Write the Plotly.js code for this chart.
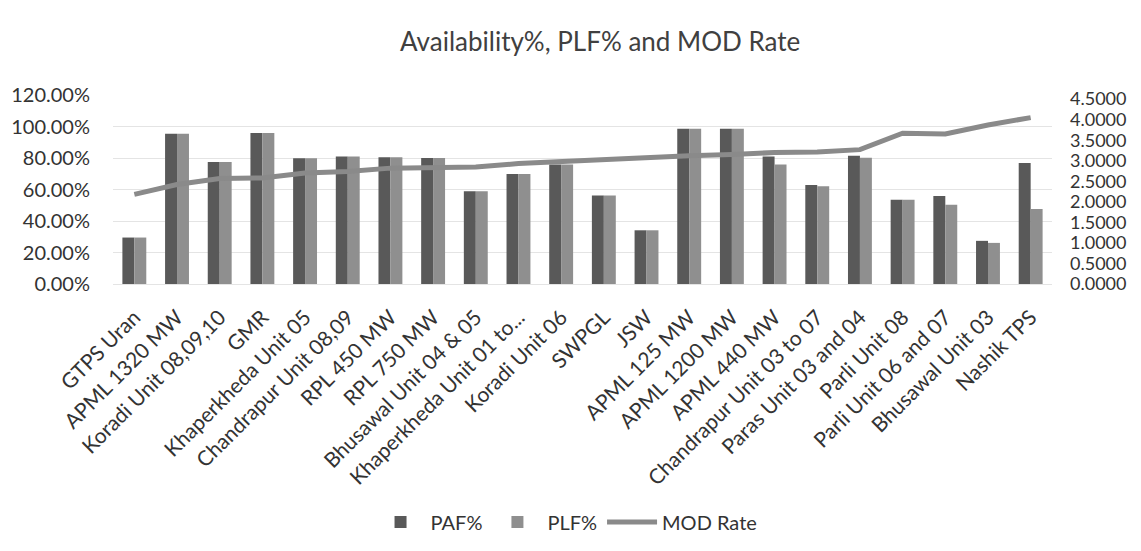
<!DOCTYPE html>
<html>
<head>
<meta charset="utf-8">
<script src="https://cdn.plot.ly/plotly-3.0.1.min.js"></script>
<style>html,body{margin:0;padding:0;background:#fff;}#chart{width:1141px;height:551px;}</style>
</head>
<body>
<div id="chart"></div>
<script>
const categories = ["GTPS Uran","APML 1320 MW","Koradi Unit 08,09,10","GMR","Khaperkheda Unit 05","Chandrapur Unit 08,09","RPL 450 MW","RPL 750 MW","Bhusawal Unit 04 & 05","Khaperkheda Unit 01 to...","Koradi Unit 06","SWPGL","JSW","APML 125 MW","APML 1200 MW","APML 440 MW","Chandrapur Unit 03 to 07","Paras Unit 03 and 04","Parli Unit 08","Parli Unit 06 and 07","Bhusawal Unit 03","Nashik TPS"];
const pafPct = [0.295,0.954,0.775,0.958,0.798,0.810,0.804,0.800,0.589,0.699,0.758,0.562,0.341,0.985,0.985,0.810,0.628,0.815,0.535,0.558,0.274,0.768];
const plfPct = [0.295,0.954,0.775,0.958,0.798,0.810,0.804,0.800,0.589,0.699,0.758,0.562,0.341,0.985,0.985,0.758,0.621,0.802,0.535,0.503,0.261,0.476];
const modRate = [2.18,2.42,2.57,2.58,2.70,2.74,2.82,2.85,2.85,2.93,2.98,3.03,3.05,3.12,3.15,3.20,3.21,3.27,3.67,3.65,3.87,4.05];

const font = "Lato, 'Open Sans', sans-serif";
const traces = [
  {type:"bar", name:"PAF%", x:categories, y:pafPct, marker:{color:"#595959"}},
  {type:"bar", name:"PLF%", x:categories, y:plfPct, marker:{color:"#8f8f8f"}},
  {type:"scatter", mode:"lines", name:"MOD Rate", x:categories, y:modRate, yaxis:"y2",
   line:{color:"#8a8a8a", width:5}}
];
const layout = {
  width:1141, height:551,
  paper_bgcolor:"#fff", plot_bgcolor:"#fff",
  margin:{l:113, r:89, t:95, b:266},
  font:{family:font, color:"#3a3a3a", size:18},
  title:{text:"Availability%, PLF% and MOD Rate", font:{family:font, size:26, color:"#404040"},
         x:0.526, xref:"container", xanchor:"center", y:0.924, yref:"container", yanchor:"middle"},
  barmode:"group", bargap:0.44, bargroupgap:0,
  xaxis:{type:"category", tickangle:-45, automargin:false, showgrid:false, showline:false, ticks:"",
         ticklabelstandoff:16, tickfont:{family:font, size:21, color:"#333"}},
  yaxis:{range:[0,1.2], dtick:0.2, tickformat:".2%", showgrid:true, gridcolor:"#e4e4e4", gridwidth:1,
         zeroline:true, zerolinecolor:"#e4e4e4", automargin:false, ticklabelstandoff:22,
         tickfont:{family:font, size:20, color:"#333"}},
  yaxis2:{overlaying:"y", side:"right", range:[0,4.6], dtick:0.5, tickformat:".4f", showgrid:false,
          zeroline:false, automargin:false, ticklabelstandoff:17,
          tickfont:{family:font, size:18, color:"#333"}},
  showlegend:true,
  legend:{orientation:"h", x:0.483, xanchor:"center", y:-1.247, yanchor:"middle",
          font:{family:font, size:20, color:"#333"}, itemwidth:50, traceorder:"normal"}
};
Plotly.newPlot("chart", traces, layout, {displayModeBar:false, staticPlot:true});
</script>
</body>
</html>
